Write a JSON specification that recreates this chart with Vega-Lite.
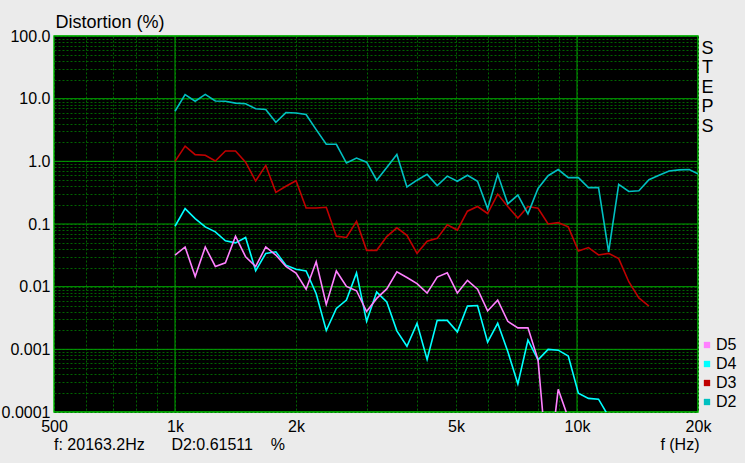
{
 "$schema": "https://vega.github.io/schema/vega-lite/v6.json",
 "width": 644, "height": 376,
 "autosize": {"type": "none"},
 "padding": {"left": 54, "top": 36, "right": 47, "bottom": 51},
 "background": "#ebebeb",
 "title": {"text": "f: 20163.2Hz\u00a0\u00a0\u00a0\u00a0\u00a0 D2:0.61511\u00a0\u00a0\u00a0 %", "orient": "bottom", "anchor": "start", "frame": "group", "font": "Liberation Sans", "fontSize": 16, "fontWeight": "normal", "color": "#000", "offset": 8, "dy": -10, "baseline": "alphabetic"},
 "data": {"values": [
{"f":1000,"s":"D2","v":6.3},{"f":1059.5,"s":"D2","v":11.6},{"f":1122.5,"s":"D2","v":9.1},{"f":1189.2,"s":"D2","v":11.7},{"f":1259.9,"s":"D2","v":9.2},{"f":1334.8,"s":"D2","v":9.1},{"f":1414.2,"s":"D2","v":8.5},{"f":1498.3,"s":"D2","v":8.3},{"f":1587.4,"s":"D2","v":6.9},{"f":1681.8,"s":"D2","v":6.7},{"f":1781.8,"s":"D2","v":4.2},{"f":1887.7,"s":"D2","v":6.0},{"f":2000,"s":"D2","v":5.9},{"f":2118.9,"s":"D2","v":5.6},{"f":2244.9,"s":"D2","v":3.2},{"f":2378.4,"s":"D2","v":1.87},{"f":2519.8,"s":"D2","v":1.87},{"f":2669.6,"s":"D2","v":0.94},{"f":2828.4,"s":"D2","v":1.13},{"f":2996.6,"s":"D2","v":0.97},{"f":3174.8,"s":"D2","v":0.5},{"f":3363.6,"s":"D2","v":0.8},{"f":3563.6,"s":"D2","v":1.29},{"f":3775.5,"s":"D2","v":0.39},{"f":4000,"s":"D2","v":0.5},{"f":4237.8,"s":"D2","v":0.62},{"f":4489.8,"s":"D2","v":0.41},{"f":4756.8,"s":"D2","v":0.58},{"f":5039.7,"s":"D2","v":0.48},{"f":5339.3,"s":"D2","v":0.6},{"f":5656.9,"s":"D2","v":0.48},{"f":5993.2,"s":"D2","v":0.176},{"f":6349.6,"s":"D2","v":0.62},{"f":6727.2,"s":"D2","v":0.21},{"f":7127.2,"s":"D2","v":0.29},{"f":7551,"s":"D2","v":0.145},{"f":8000,"s":"D2","v":0.37},{"f":8475.6,"s":"D2","v":0.59},{"f":8979.7,"s":"D2","v":0.74},{"f":9513.7,"s":"D2","v":0.55},{"f":10079.4,"s":"D2","v":0.55},{"f":10678.7,"s":"D2","v":0.38},{"f":11313.7,"s":"D2","v":0.38},{"f":11986.4,"s":"D2","v":0.036},{"f":12699.2,"s":"D2","v":0.43},{"f":13454.3,"s":"D2","v":0.33},{"f":14254.4,"s":"D2","v":0.34},{"f":15102,"s":"D2","v":0.51},{"f":16000,"s":"D2","v":0.6},{"f":16951.3,"s":"D2","v":0.7},{"f":17959.4,"s":"D2","v":0.73},{"f":19027.3,"s":"D2","v":0.74},{"f":20163,"s":"D2","v":0.615},
{"f":1000,"s":"D3","v":1.0},{"f":1059.5,"s":"D3","v":1.75},{"f":1122.5,"s":"D3","v":1.28},{"f":1189.2,"s":"D3","v":1.25},{"f":1259.9,"s":"D3","v":1.01},{"f":1334.8,"s":"D3","v":1.46},{"f":1414.2,"s":"D3","v":1.46},{"f":1498.3,"s":"D3","v":0.97},{"f":1587.4,"s":"D3","v":0.485},{"f":1681.8,"s":"D3","v":0.86},{"f":1781.8,"s":"D3","v":0.32},{"f":1887.7,"s":"D3","v":0.4},{"f":2000,"s":"D3","v":0.49},{"f":2118.9,"s":"D3","v":0.18},{"f":2244.9,"s":"D3","v":0.18},{"f":2378.4,"s":"D3","v":0.185},{"f":2519.8,"s":"D3","v":0.064},{"f":2669.6,"s":"D3","v":0.061},{"f":2828.4,"s":"D3","v":0.11},{"f":2996.6,"s":"D3","v":0.038},{"f":3174.8,"s":"D3","v":0.038},{"f":3363.6,"s":"D3","v":0.063},{"f":3563.6,"s":"D3","v":0.087},{"f":3775.5,"s":"D3","v":0.066},{"f":4000,"s":"D3","v":0.034},{"f":4237.8,"s":"D3","v":0.053},{"f":4489.8,"s":"D3","v":0.059},{"f":4756.8,"s":"D3","v":0.097},{"f":5039.7,"s":"D3","v":0.08},{"f":5339.3,"s":"D3","v":0.16},{"f":5656.9,"s":"D3","v":0.19},{"f":5993.2,"s":"D3","v":0.147},{"f":6349.6,"s":"D3","v":0.3},{"f":6727.2,"s":"D3","v":0.19},{"f":7127.2,"s":"D3","v":0.125},{"f":7551,"s":"D3","v":0.19},{"f":8000,"s":"D3","v":0.178},{"f":8475.6,"s":"D3","v":0.1},{"f":8979.7,"s":"D3","v":0.105},{"f":9513.7,"s":"D3","v":0.09},{"f":10079.4,"s":"D3","v":0.037},{"f":10678.7,"s":"D3","v":0.042},{"f":11313.7,"s":"D3","v":0.032},{"f":11986.4,"s":"D3","v":0.034},{"f":12699.2,"s":"D3","v":0.028},{"f":13454.3,"s":"D3","v":0.012},{"f":14254.4,"s":"D3","v":0.0066},{"f":15102,"s":"D3","v":0.0049},
{"f":1000,"s":"D4","v":0.092},{"f":1059.5,"s":"D4","v":0.176},{"f":1122.5,"s":"D4","v":0.122},{"f":1189.2,"s":"D4","v":0.09},{"f":1259.9,"s":"D4","v":0.075},{"f":1334.8,"s":"D4","v":0.054},{"f":1414.2,"s":"D4","v":0.05},{"f":1498.3,"s":"D4","v":0.061},{"f":1587.4,"s":"D4","v":0.018},{"f":1681.8,"s":"D4","v":0.034},{"f":1781.8,"s":"D4","v":0.036},{"f":1887.7,"s":"D4","v":0.022},{"f":2000,"s":"D4","v":0.019},{"f":2118.9,"s":"D4","v":0.0178},{"f":2244.9,"s":"D4","v":0.0077},{"f":2378.4,"s":"D4","v":0.002},{"f":2519.8,"s":"D4","v":0.0045},{"f":2669.6,"s":"D4","v":0.0061},{"f":2828.4,"s":"D4","v":0.0166},{"f":2996.6,"s":"D4","v":0.0028},{"f":3174.8,"s":"D4","v":0.0082},{"f":3363.6,"s":"D4","v":0.0057},{"f":3563.6,"s":"D4","v":0.00197},{"f":3775.5,"s":"D4","v":0.00112},{"f":4000,"s":"D4","v":0.0026},{"f":4237.8,"s":"D4","v":0.00069},{"f":4489.8,"s":"D4","v":0.0029},{"f":4756.8,"s":"D4","v":0.0029},{"f":5039.7,"s":"D4","v":0.0019},{"f":5339.3,"s":"D4","v":0.0049},{"f":5656.9,"s":"D4","v":0.005},{"f":5993.2,"s":"D4","v":0.0013},{"f":6349.6,"s":"D4","v":0.0026},{"f":6727.2,"s":"D4","v":0.00092},{"f":7127.2,"s":"D4","v":0.00028},{"f":7551,"s":"D4","v":0.0014},{"f":8000,"s":"D4","v":0.00068},{"f":8475.6,"s":"D4","v":0.001},{"f":8979.7,"s":"D4","v":0.00097},{"f":9513.7,"s":"D4","v":0.00078},{"f":10079.4,"s":"D4","v":0.0002},{"f":10678.7,"s":"D4","v":0.000165},{"f":11313.7,"s":"D4","v":0.00016},{"f":11986.4,"s":"D4","v":0.000085},
{"f":1000,"s":"D5","v":0.032},{"f":1059.5,"s":"D5","v":0.043},{"f":1122.5,"s":"D5","v":0.0145},{"f":1189.2,"s":"D5","v":0.043},{"f":1259.9,"s":"D5","v":0.021},{"f":1334.8,"s":"D5","v":0.024},{"f":1414.2,"s":"D5","v":0.064},{"f":1498.3,"s":"D5","v":0.03},{"f":1587.4,"s":"D5","v":0.021},{"f":1681.8,"s":"D5","v":0.043},{"f":1781.8,"s":"D5","v":0.032},{"f":1887.7,"s":"D5","v":0.021},{"f":2000,"s":"D5","v":0.0165},{"f":2118.9,"s":"D5","v":0.0091},{"f":2244.9,"s":"D5","v":0.025},{"f":2378.4,"s":"D5","v":0.0052},{"f":2519.8,"s":"D5","v":0.0178},{"f":2669.6,"s":"D5","v":0.0101},{"f":2828.4,"s":"D5","v":0.0086},{"f":2996.6,"s":"D5","v":0.004},{"f":3174.8,"s":"D5","v":0.0065},{"f":3363.6,"s":"D5","v":0.0092},{"f":3563.6,"s":"D5","v":0.0172},{"f":3775.5,"s":"D5","v":0.014},{"f":4000,"s":"D5","v":0.0112},{"f":4237.8,"s":"D5","v":0.0079},{"f":4489.8,"s":"D5","v":0.0142},{"f":4756.8,"s":"D5","v":0.0166},{"f":5039.7,"s":"D5","v":0.0079},{"f":5339.3,"s":"D5","v":0.0126},{"f":5656.9,"s":"D5","v":0.0091},{"f":5993.2,"s":"D5","v":0.0041},{"f":6349.6,"s":"D5","v":0.0061},{"f":6727.2,"s":"D5","v":0.0028},{"f":7127.2,"s":"D5","v":0.0022},{"f":7551,"s":"D5","v":0.0022},{"f":8000,"s":"D5","v":0.00068},{"f":8475.6,"s":"D5","v":0.00001},{"f":8979.7,"s":"D5","v":0.00023},{"f":9513.7,"s":"D5","v":0.00008}
 ]},
 "layer": [
  {
   "data": {"values": [{"g": 1000}, {"g": 10000}]},
   "mark": {"type": "rule", "color": "#00a000", "strokeWidth": 1},
   "encoding": {"x": {"field": "g", "type": "quantitative", "scale": {"type": "log", "domain": [500, 20000], "nice": false}, "axis": null}}
  },
  {
   "data": {"values": [{"g": 0.0001}, {"g": 0.001}, {"g": 0.01}, {"g": 0.1}, {"g": 1}, {"g": 10}, {"g": 100}]},
   "mark": {"type": "rule", "color": "#00a000", "strokeWidth": 1},
   "encoding": {"y": {"field": "g", "type": "quantitative", "scale": {"type": "log", "domain": [0.0001, 100], "nice": false}, "axis": null}}
  },
  {
   "transform": [{"filter": "datum.s != 'D2'"}],
   "mark": {"type": "line", "clip": true, "strokeWidth": 1.6},
   "encoding": {
    "x": {"field": "f", "type": "quantitative",
     "scale": {"type": "log", "domain": [500, 20000], "nice": false},
     "axis": {"orient": "bottom", "values": [500,600,700,800,900,1000,2000,3000,4000,5000,6000,7000,8000,9000,10000,20000],
      "labelExpr": "indexof([500,1000,2000,5000,10000,20000], datum.value) < 0 ? '' : (datum.value >= 1000 ? (datum.value/1000) + 'k' : '' + datum.value)",
      "grid": true, "gridColor": "#006400", "gridDash": [2, 2],
      "domain": false, "ticks": false, "labelPadding": 6, "labelOverlap": false, "labelFlush": false, "labelBound": false,
      "title": "f (Hz)", "titleAlign": "right", "titleBaseline": "alphabetic", "titleX": 645, "titleY": 37, "titleFontSize": 16}},
    "y": {"field": "v", "type": "quantitative",
     "scale": {"type": "log", "domain": [0.0001, 100], "nice": false},
     "axis": {"orient": "left", "values": [0.0001,0.0002,0.0003,0.0004,0.0005,0.0006,0.0007,0.0008,0.0009,0.001,0.002,0.003,0.004,0.005,0.006,0.007,0.008,0.009,0.01,0.02,0.03,0.04,0.05,0.06,0.07,0.08,0.09,0.1,0.2,0.3,0.4,0.5,0.6,0.7,0.8,0.9,1,2,3,4,5,6,7,8,9,10,20,30,40,50,60,70,80,90,100],
      "labelExpr": "indexof([0.0001,0.001,0.01,0.1,1,10,100], datum.value) < 0 ? '' : (datum.value >= 1 ? format(datum.value, '.1f') : '' + datum.value)",
      "grid": true, "gridColor": "#006400", "gridDash": [2, 2],
      "domain": false, "ticks": false, "labelPadding": 4, "labelOverlap": false, "labelFlush": false, "labelBound": false,
      "title": "Distortion (%)", "titleAngle": 0, "titleAlign": "left", "titleBaseline": "alphabetic", "titleX": 1, "titleY": -9, "titleFontSize": 18}},
    "color": {"field": "s", "type": "nominal",
     "scale": {"domain": ["D5", "D4", "D3", "D2"], "range": ["#ff80ff", "#00ffff", "#c00000", "#00c0c0"]},
     "legend": {"orient": "none", "legendX": 645, "legendY": 301, "title": null, "symbolType": "square", "symbolSize": 40, "symbolStrokeWidth": 0, "labelFontSize": 16, "labelFont": "Liberation Sans", "labelColor": "#000", "rowPadding": 3, "labelOffset": 1,
      "encode": {"symbols": {"update": {"fill": {"scale": "color", "field": "value"}, "fillOpacity": {"value": 1}}}}}}
   }
  },
  {
   "transform": [{"filter": "datum.s == 'D2'"}],
   "mark": {"type": "line", "clip": true, "strokeWidth": 1.6},
   "encoding": {
    "x": {"field": "f", "type": "quantitative", "axis": null},
    "y": {"field": "v", "type": "quantitative",
     "axis": {"orient": "right", "title": ["S", "T", "E", "P", "S"], "labels": false, "ticks": false, "domain": false, "grid": false,
      "titleAngle": 0, "titleAlign": "center", "titleBaseline": "top", "titleX": 9, "titleY": 3, "titleFontSize": 18, "titleLineHeight": 19.5}},
    "color": {"field": "s", "type": "nominal",
     "scale": {"domain": ["D5", "D4", "D3", "D2"], "range": ["#ff80ff", "#00ffff", "#c00000", "#00c0c0"]}}
   }
  }
 ],
 "resolve": {"axis": {"x": "independent", "y": "independent"}},
 "config": {
  "view": {"fill": "#000000", "stroke": "#00c000", "strokeWidth": 1.5},
  "font": "Liberation Sans",
  "axis": {"labelFont": "Liberation Sans", "labelFontSize": 16, "labelColor": "#000", "titleFont": "Liberation Sans", "titleFontWeight": "normal", "titleColor": "#000", "gridWidth": 1, "gridOpacity": 1}
 }
}
